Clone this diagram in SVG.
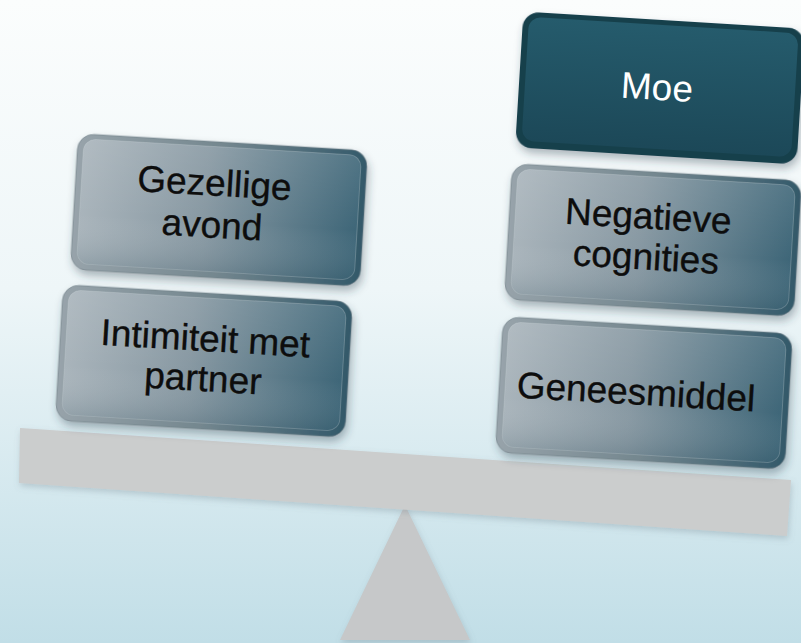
<svg xmlns="http://www.w3.org/2000/svg" width="801" height="643" viewBox="0 0 801 643">
  <style>
    .lbl { font-family: "Liberation Sans", Arial, sans-serif; font-size: 37px; text-anchor: middle; fill: #0d0d0d; stroke: #0d0d0d; stroke-width: 0.35px; }
    .lbl-w { font-family: "Liberation Sans", Arial, sans-serif; font-size: 37px; text-anchor: middle; fill: #ffffff; }
    .rim { fill: url(#rimGrad); stroke: #6f7e87; stroke-opacity: 0.6; stroke-width: 1; }
    .face { fill: url(#faceGrad); stroke: #c8d0d5; stroke-opacity: 0.3; stroke-width: 1; }
    .face-shade { fill: url(#shadeGrad); }
    .rim-dark { fill: #173f4c; }
    .face-dark { fill: url(#darkFace); }
  </style>
  <defs>
    <linearGradient id="bg" x1="0" y1="0" x2="0" y2="1">
      <stop offset="0" stop-color="#fbfdfd"/>
      <stop offset="0.45" stop-color="#eef6f8"/>
      <stop offset="1" stop-color="#c1dee7"/>
    </linearGradient>
    <linearGradient id="rimGrad" x1="0" y1="0" x2="1" y2="0">
      <stop offset="0" stop-color="#97a3aa"/>
      <stop offset="0.5" stop-color="#74878f"/>
      <stop offset="1" stop-color="#33596a"/>
    </linearGradient>
    <linearGradient id="faceGrad" x1="0" y1="0" x2="1" y2="0">
      <stop offset="0" stop-color="#a9b4bb"/>
      <stop offset="0.45" stop-color="#8798a2"/>
      <stop offset="1" stop-color="#3e6678"/>
    </linearGradient>
    <linearGradient id="shadeGrad" x1="0" y1="0" x2="0" y2="1">
      <stop offset="0" stop-color="#ffffff" stop-opacity="0.1"/>
      <stop offset="0.6" stop-color="#ffffff" stop-opacity="0"/>
      <stop offset="1" stop-color="#1d3e4c" stop-opacity="0.15"/>
    </linearGradient>
    <linearGradient id="darkFace" x1="0" y1="0" x2="0" y2="1">
      <stop offset="0" stop-color="#255b6c"/>
      <stop offset="1" stop-color="#1c4858"/>
    </linearGradient>
    <filter id="shadow" x="-10%" y="-15%" width="125%" height="140%">
      <feDropShadow dx="2" dy="5" stdDeviation="4" flood-color="#2b3e46" flood-opacity="0.35"/>
    </filter>
    <filter id="softShadow" x="-5%" y="-20%" width="110%" height="150%">
      <feDropShadow dx="1" dy="3" stdDeviation="3" flood-color="#6a7c84" flood-opacity="0.3"/>
    </filter>
  </defs>

  <rect width="801" height="643" fill="url(#bg)"/>

  <g id="fulcrum">
    <polygon points="405,505 340,640 470,640" fill="#c6c8c9" filter="url(#softShadow)"/>
  </g>

  <g id="beam">
    <polygon points="20,428 791,480 787,536 19,483" fill="#cbcdcd" filter="url(#softShadow)"/>
  </g>

  <g id="connectors"></g>

  <g id="node-intimiteit" transform="translate(204,361) rotate(3.4)">
    <g filter="url(#shadow)">
      <rect class="rim" x="-145" y="-68" width="290" height="136" rx="16"/>
    </g>
    <rect class="face" x="-139" y="-63" width="278" height="125" rx="12"/>
    <rect class="face-shade" x="-139" y="-63" width="278" height="125" rx="12"/>
    <text class="lbl" x="0" y="-10">Intimiteit met</text>
    <text class="lbl" x="0" y="30">partner</text>
  </g>

  <g id="node-gezellige" transform="translate(219,210) rotate(3.4)">
    <g filter="url(#shadow)">
      <rect class="rim" x="-145" y="-68" width="290" height="136" rx="16"/>
    </g>
    <rect class="face" x="-139" y="-63" width="278" height="125" rx="12"/>
    <rect class="face-shade" x="-139" y="-63" width="278" height="125" rx="12"/>
    <text class="lbl" x="-6" y="-14">Gezellige</text>
    <text class="lbl" x="-6" y="28">avond</text>
  </g>

  <g id="node-geneesmiddel" transform="translate(644,393) rotate(3.4)">
    <g filter="url(#shadow)">
      <rect class="rim" x="-145" y="-68" width="290" height="136" rx="16"/>
    </g>
    <rect class="face" x="-139" y="-63" width="278" height="125" rx="12"/>
    <rect class="face-shade" x="-139" y="-63" width="278" height="125" rx="12"/>
    <text class="lbl" x="-8" y="12">Geneesmiddel</text>
  </g>

  <g id="node-negatieve" transform="translate(653,240) rotate(3.4)">
    <g filter="url(#shadow)">
      <rect class="rim" x="-145" y="-68" width="290" height="136" rx="16"/>
    </g>
    <rect class="face" x="-139" y="-63" width="278" height="125" rx="12"/>
    <rect class="face-shade" x="-139" y="-63" width="278" height="125" rx="12"/>
    <text class="lbl" x="-6" y="-11">Negatieve</text>
    <text class="lbl" x="-6" y="30">cognities</text>
  </g>

  <g id="node-moe" transform="translate(660,88) rotate(3.5)">
    <g filter="url(#shadow)">
      <rect class="rim-dark" x="-141" y="-68" width="282" height="136" rx="16"/>
    </g>
    <rect class="face-dark" x="-135" y="-63" width="270" height="124" rx="12"/>
    <text class="lbl-w" x="-3" y="12">Moe</text>
  </g>
</svg>
